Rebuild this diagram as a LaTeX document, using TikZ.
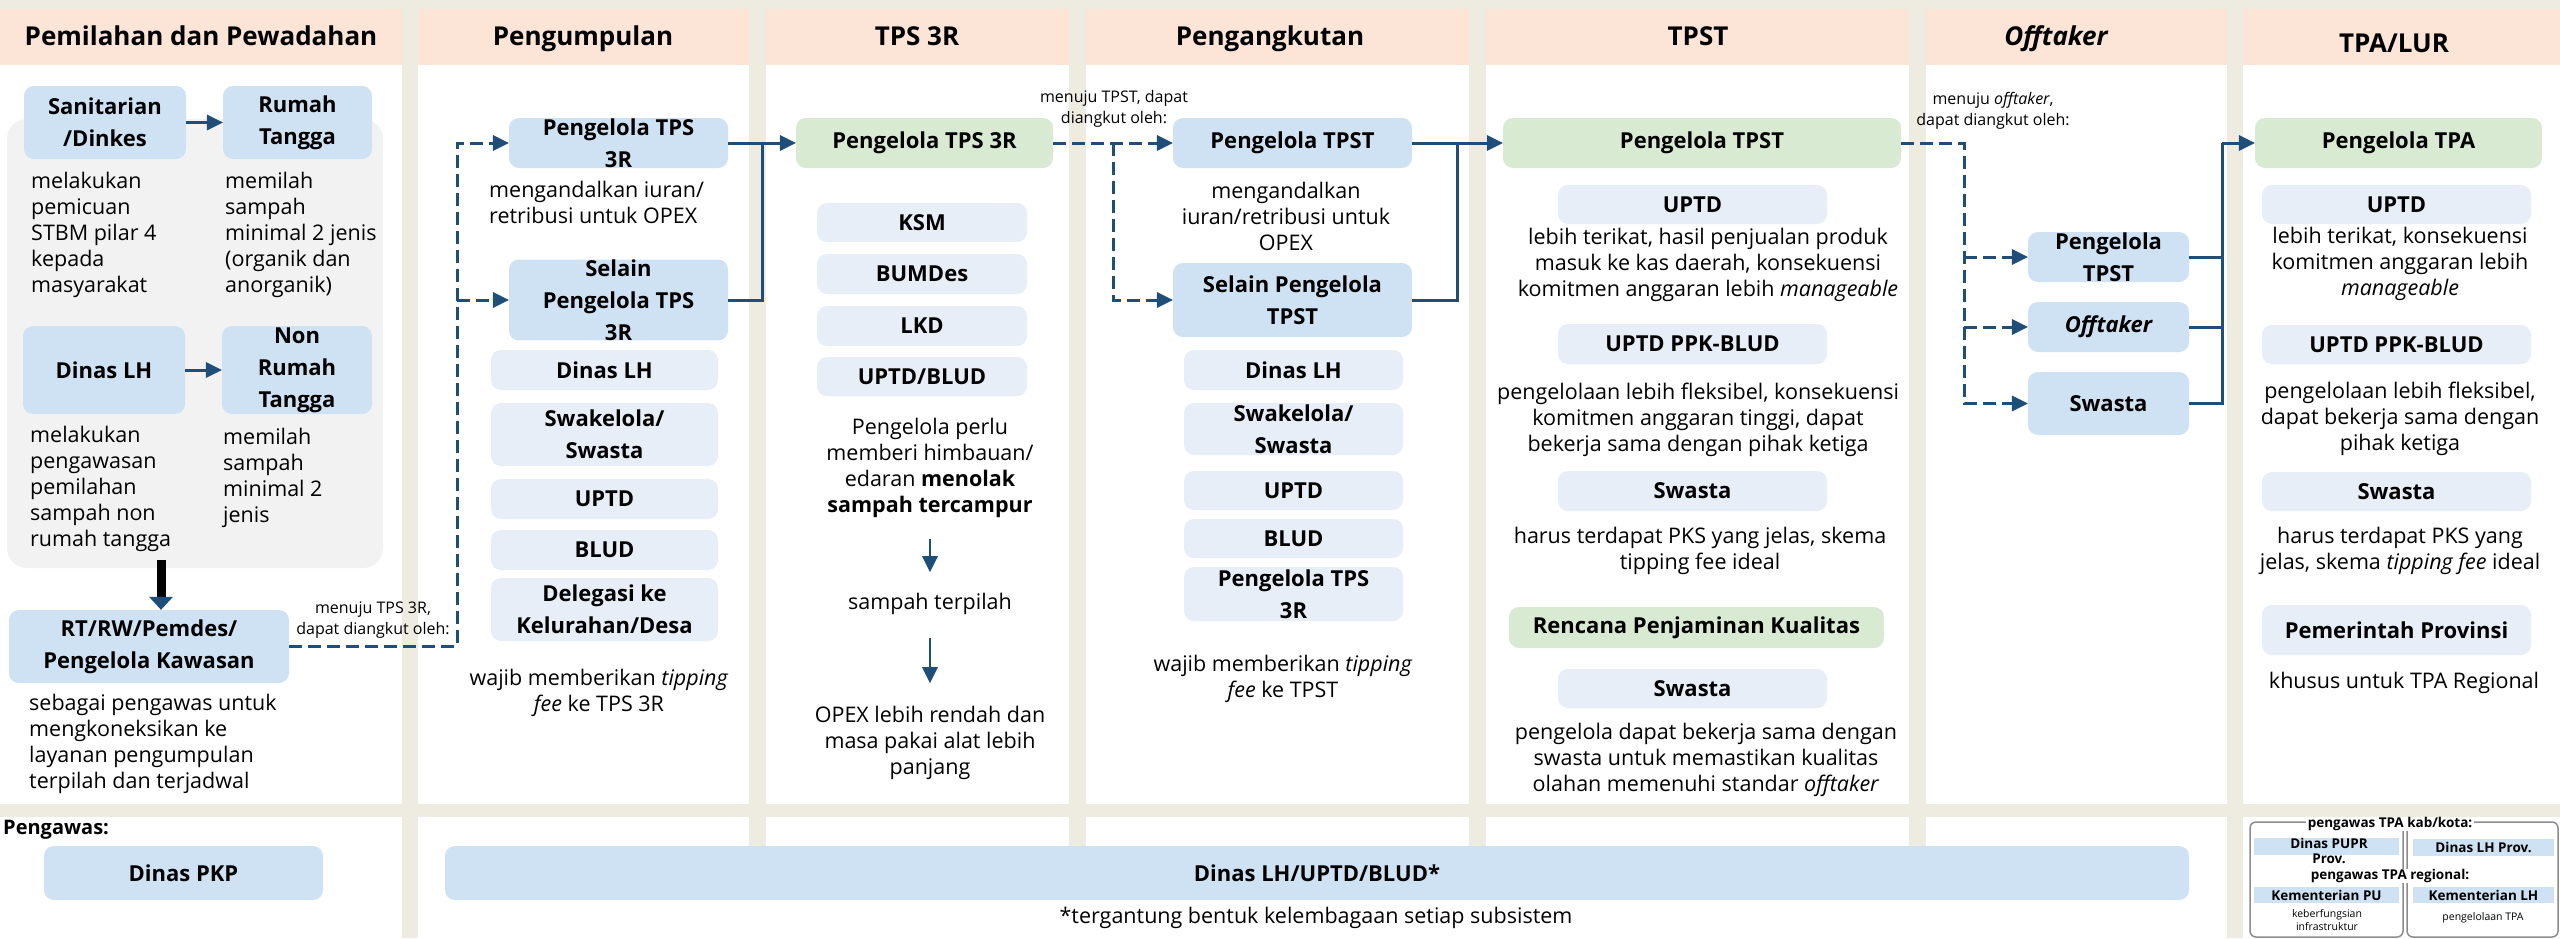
\documentclass[tikz,border=0pt]{standalone}
\usepackage{fontspec}
\setmainfont{Open Sans}
\usetikzlibrary{arrows.meta}

\definecolor{bgbeige}{RGB}{238,236,225}
\definecolor{hdrpeach}{RGB}{252,228,214}
\definecolor{boxblue}{RGB}{207,226,243}
\definecolor{boxpale}{RGB}{232,238,247}
\definecolor{boxgreen}{RGB}{217,234,211}
\definecolor{panelgray}{RGB}{242,242,242}
\definecolor{linenavy}{RGB}{31,78,121}
\definecolor{framegray}{RGB}{140,140,140}

\begin{document}
\begin{tikzpicture}[x=1pt,y=-1pt,
    hdr/.style={font=\fontsize{26}{30}\selectfont\bfseries,anchor=base,inner sep=0pt},
    txt/.style={font=\fontsize{21.5}{26}\selectfont,align=center,inner sep=0pt},
    lefttxt/.style={txt,align=left,anchor=north west},
    smalltxt/.style={font=\fontsize{16}{21}\selectfont,align=center,inner sep=0pt},
    bluebox/.style={fill=boxblue,rounded corners=10pt,inner sep=0pt,align=center,
      font=\fontsize{22}{32}\selectfont\bfseries},
    palebox/.style={bluebox,fill=boxpale},
    greenbox/.style={bluebox,fill=boxgreen},
    conn/.style={linenavy,line width=3pt},
    arr/.style={-{Triangle[length=16pt,width=16pt,line width=0pt]}},
    dashconn/.style={conn,dash pattern=on 13pt off 6pt},
    tinybold/.style={font=\fontsize{13.5}{15}\selectfont\bfseries,align=center,inner sep=0pt},
    tinytxt/.style={font=\fontsize{10.5}{13}\selectfont,align=center,inner sep=0pt},
    tinystrip/.style={tinybold,fill=boxblue},
    tinyframe/.style={draw=framegray,line width=1.5pt,rounded corners=6pt,inner sep=0pt}]

% Background and columns
\fill[bgbeige] (0,0) rectangle (2560,938);
\foreach \xa/\xb in {0/402,418/749,766/1069,1086/1469,1486/1909,1926/2227,2243/2560}{
  \fill[white] (\xa,65) rectangle (\xb,804);
  \fill[hdrpeach] (\xa,9) rectangle (\xb,65);
}
\fill[white] (0,817) rectangle (402,938);
\fill[white] (418,847) rectangle (2227,938);
\foreach \xa/\xb in {418/749,766/1069,1086/1469,1486/1909,1926/2227}
  \fill[white] (\xa,817) rectangle (\xb,848);
\fill[white] (2243,817) rectangle (2560,938);

% Headers
\node[hdr] (h1) at (201,45) {Pemilahan dan Pewadahan};
\node[hdr] (h2) at (583,45) {Pengumpulan};
\node[hdr] (h3) at (917,45) {TPS 3R};
\node[hdr] (h4) at (1270,45) {Pengangkutan};
\node[hdr] (h5) at (1698,45) {TPST};
\node[hdr] (h6) at (2056,45) {\itshape Offtaker};
\node[hdr] (h7) at (2394,52) {TPA/LUR};

% Pemilahan dan Pewadahan
\node[fill=panelgray,rounded corners=20pt,minimum width=376pt,minimum height=449pt] (grp) at (195,343.5) {};
\node[bluebox,minimum width=162pt,minimum height=73pt] (san) at (105,122.5) {Sanitarian\\/Dinkes};
\node[bluebox,minimum width=149pt,minimum height=73pt] (rt) at (297.5,122.5) {Rumah\\Tangga};
\node[lefttxt] (sant) at (31,172) {melakukan\\pemicuan\\STBM pilar 4\\kepada\\masyarakat};
\node[lefttxt] (rtt) at (225,172) {memilah\\sampah\\minimal 2 jenis\\(organik dan\\anorganik)};
\node[bluebox,minimum width=162pt,minimum height=88pt] (dlh) at (104,370) {Dinas LH};
\node[bluebox,minimum width=150pt,minimum height=88pt] (nrt) at (297,370) {Non\\Rumah\\Tangga};
\node[lefttxt] (dlht) at (30,426) {melakukan\\pengawasan\\pemilahan\\sampah non\\rumah tangga};
\node[lefttxt] (nrtt) at (223,428) {memilah\\sampah\\minimal 2\\jenis};
\node[bluebox,minimum width=280pt,minimum height=73pt] (rtrw) at (149,646.5) {RT/RW/Pemdes/\\Pengelola Kawasan};
\node[lefttxt] (rtrwt) at (29,694) {sebagai pengawas untuk\\mengkoneksikan ke\\layanan pengumpulan\\terpilah dan terjadwal};
\node[smalltxt] (lbl1) at (373,620) {menuju TPS 3R,\\dapat diangkut oleh:};
\draw[conn,arr] (san.east) -- (rt.west);
\draw[conn,arr] (dlh.east) -- (nrt.west);
\coordinate (drop) at (161,560);
\draw[line width=9pt,black,-{Triangle[length=13pt,width=24pt,line width=0pt,color=linenavy]}] (drop) -- (drop |- rtrw.north);

% Pengumpulan
\node[bluebox,minimum width=219pt,minimum height=50pt] (pts3r) at (618.5,143) {Pengelola TPS\\3R};
\node[lefttxt] (pts3rt) at (489,181) {mengandalkan iuran/\\retribusi untuk OPEX};
\node[bluebox,minimum width=219pt,minimum height=74pt] (sel3r) at (618.5,300) {Selain\\Pengelola TPS\\3R};
\node[palebox,minimum width=227pt,minimum height=40pt] (c2a) at (604.5,370) {Dinas LH};
\node[palebox,minimum width=227pt,minimum height=63pt] (c2b) at (604.5,434.5) {Swakelola/\\Swasta};
\node[palebox,minimum width=227pt,minimum height=40pt] (c2c) at (604.5,499) {UPTD};
\node[palebox,minimum width=227pt,minimum height=40pt] (c2d) at (604.5,550) {BLUD};
\node[palebox,minimum width=227pt,minimum height=63pt] (c2e) at (604.5,609.5) {Delegasi ke\\Kelurahan/Desa};
\node[txt] (c2note) at (599,693) {wajib memberikan \textit{tipping}\\\textit{fee} ke TPS 3R};
\coordinate (j1) at (457,143);
\draw[dashconn,arr] (rtrw.east) -| (j1) -- (pts3r.west);
\draw[dashconn,arr] (j1 |- sel3r.west) -- (sel3r.west);

% TPS 3R
\node[greenbox,minimum width=257pt,minimum height=50pt] (g3r) at (924.5,143) {Pengelola TPS 3R};
\node[palebox,minimum width=210pt,minimum height=39pt] (c3a) at (922,222.5) {KSM};
\node[palebox,minimum width=210pt,minimum height=40pt] (c3b) at (922,274) {BUMDes};
\node[palebox,minimum width=210pt,minimum height=40pt] (c3c) at (922,326) {LKD};
\node[palebox,minimum width=210pt,minimum height=39pt] (c3d) at (922,376.5) {UPTD/BLUD};
\node[txt] (himb) at (930,468) {Pengelola perlu\\memberi himbauan/\\edaran \textbf{menolak}\\\textbf{sampah tercampur}};
\node[txt] (terp) at (930,604) {sampah terpilah};
\node[txt] (opex) at (930,743) {OPEX lebih rendah dan\\masa pakai alat lebih\\panjang};
\coordinate (j2) at (762,143);
\draw[conn,arr] (pts3r.east) -- (g3r.west);
\draw[conn] (sel3r.east) -| (j2);
\draw[conn,line width=2.5pt,arr,shorten <=21pt,shorten >=21pt] (himb) -- (terp);
\draw[conn,line width=2.5pt,arr,shorten <=23pt,shorten >=23pt] (terp) -- (opex);

% Pengangkutan
\node[smalltxt] (lbl2) at (1114,109) {menuju TPST, dapat\\diangkut oleh:};
\node[bluebox,minimum width=239pt,minimum height=50pt] (ptst) at (1292.5,143) {Pengelola TPST};
\node[txt] (ptstt) at (1286,216) {mengandalkan\\iuran/retribusi untuk\\OPEX};
\node[bluebox,minimum width=239pt,minimum height=74pt] (selt) at (1292.5,300) {Selain Pengelola\\TPST};
\node[palebox,minimum width=219pt,minimum height=40pt] (c4a) at (1293.5,370) {Dinas LH};
\node[palebox,minimum width=219pt,minimum height=52pt] (c4b) at (1293.5,429) {Swakelola/\\Swasta};
\node[palebox,minimum width=219pt,minimum height=39pt] (c4c) at (1293.5,490.5) {UPTD};
\node[palebox,minimum width=219pt,minimum height=39pt] (c4d) at (1293.5,538.5) {BLUD};
\node[palebox,minimum width=219pt,minimum height=54pt] (c4e) at (1293.5,594) {Pengelola TPS\\3R};
\node[txt] (c4note) at (1283,679) {wajib memberikan \textit{tipping}\\\textit{fee} ke TPST};
\coordinate (j3) at (1113,143);
\draw[dashconn,arr] (g3r.east) -- (ptst.west);
\draw[dashconn,arr] (j3) |- (selt.west);

% TPST
\node[greenbox,minimum width=398pt,minimum height=50pt] (gtpst) at (1702,143) {Pengelola TPST};
\node[palebox,minimum width=269pt,minimum height=39pt] (c5a) at (1692.5,204.5) {UPTD};
\node[txt] (c5at) at (1708,265) {lebih terikat, hasil penjualan produk\\masuk ke kas daerah, konsekuensi\\komitmen anggaran lebih \textit{manageable}};
\node[palebox,minimum width=269pt,minimum height=40pt] (c5b) at (1692.5,344) {UPTD PPK-BLUD};
\node[txt] (c5bt) at (1698,420) {pengelolaan lebih fleksibel, konsekuensi\\komitmen anggaran tinggi, dapat\\bekerja sama dengan pihak ketiga};
\node[palebox,minimum width=269pt,minimum height=40pt] (c5c) at (1692.5,491) {Swasta};
\node[txt] (c5ct) at (1700,551) {harus terdapat PKS yang jelas, skema\\tipping fee ideal};
\node[greenbox,minimum width=375pt,minimum height=41pt] (rpk) at (1696.5,627.5) {Rencana Penjaminan Kualitas};
\node[palebox,minimum width=269pt,minimum height=39pt] (c5d) at (1692.5,688.5) {Swasta};
\node[txt] (c5dt) at (1706,760) {pengelola dapat bekerja sama dengan\\swasta untuk memastikan kualitas\\olahan memenuhi standar \textit{offtaker}};
\coordinate (j4) at (1457,143);
\draw[conn,arr] (ptst.east) -- (gtpst.west);
\draw[conn] (selt.east) -| (j4);

% Offtaker
\node[smalltxt] (lbl3) at (1993,111) {menuju \textit{offtaker},\\dapat diangkut oleh:};
\node[bluebox,minimum width=161pt,minimum height=50pt] (pg6) at (2108.5,257) {Pengelola\\TPST};
\node[bluebox,minimum width=161pt,minimum height=50pt] (of6) at (2108.5,327) {\itshape Offtaker};
\node[bluebox,minimum width=161pt,minimum height=63pt] (sw6) at (2108.5,403.5) {Swasta};
\coordinate (j5) at (1964,143);
\draw[dashconn,arr] (gtpst.east) -- (j5) |- (sw6.west);
\draw[dashconn,arr] (j5 |- pg6.west) -- (pg6.west);
\draw[dashconn,arr] (j5 |- of6.west) -- (of6.west);

% TPA/LUR
\node[greenbox,minimum width=287pt,minimum height=50pt] (gtpa) at (2398.5,143) {Pengelola TPA};
\node[palebox,minimum width=269pt,minimum height=39pt] (c7a) at (2396.5,204.5) {UPTD};
\node[txt] (c7at) at (2400,264) {lebih terikat, konsekuensi\\komitmen anggaran lebih\\\textit{manageable}};
\node[palebox,minimum width=269pt,minimum height=39pt] (c7b) at (2396.5,344.5) {UPTD PPK-BLUD};
\node[txt] (c7bt) at (2400,419) {pengelolaan lebih fleksibel,\\dapat bekerja sama dengan\\pihak ketiga};
\node[palebox,minimum width=269pt,minimum height=39pt] (c7c) at (2396.5,491.5) {Swasta};
\node[txt] (c7ct) at (2400,551) {harus terdapat PKS yang\\jelas, skema \textit{tipping fee} ideal};
\node[palebox,minimum width=269pt,minimum height=50pt] (c7d) at (2396.5,630) {Pemerintah Provinsi};
\node[txt] (c7dt) at (2404,683) {khusus untuk TPA Regional};
\coordinate (j6) at (2222,143);
\draw[conn] (sw6.east) -| (j6);
\draw[conn,arr] (j6) -- (gtpa.west);
\draw[conn] (pg6.east) -- (pg6.east -| j6);
\draw[conn] (of6.east) -- (of6.east -| j6);

% Pengawas
\node[font=\fontsize{20}{24}\selectfont\bfseries,anchor=west,inner sep=0pt] (pgw) at (3,830) {Pengawas:};
\node[bluebox,minimum width=279pt,minimum height=54pt] (pkp) at (183.5,873) {Dinas PKP};
\node[bluebox,minimum width=1744pt,minimum height=54pt] (dlhb) at (1317,873) {Dinas LH/UPTD/BLUD*};
\node[txt] (foot) at (1316,918) {*tergantung bentuk kelembagaan setiap subsistem};

% Pengawas TPA
\node[tinyframe,minimum width=153pt,minimum height=115pt] (kabl) at (2326.5,879.5) {};
\node[tinyframe,minimum width=151pt,minimum height=115pt] (kabr) at (2482.5,879.5) {};
\node[tinystrip,minimum width=145pt,minimum height=17pt] (pupr) at (2326.5,846.5) {};
\node[tinybold] (puprt) at (2329,851) {Dinas PUPR\\Prov.};
\node[tinystrip,minimum width=141pt,minimum height=17pt] (lhp) at (2483.5,847.5) {Dinas LH Prov.};
\node[tinybold,fill=white,inner xsep=2pt] (kabt) at (2390,824) {pengawas TPA kab/kota:};
\node[tinybold,fill=white,inner xsep=2pt] (regt) at (2390,876) {pengawas TPA regional:};
\node[tinystrip,minimum width=145pt,minimum height=16pt] (kpu) at (2326.5,895) {Kementerian PU};
\node[tinystrip,minimum width=141pt,minimum height=16pt] (klh) at (2483.5,895) {Kementerian LH};
\node[tinytxt] (kput) at (2327,920) {keberfungsian\\infrastruktur};
\node[tinytxt] (klht) at (2483,918) {pengelolaan TPA};
\end{tikzpicture}
\end{document}
